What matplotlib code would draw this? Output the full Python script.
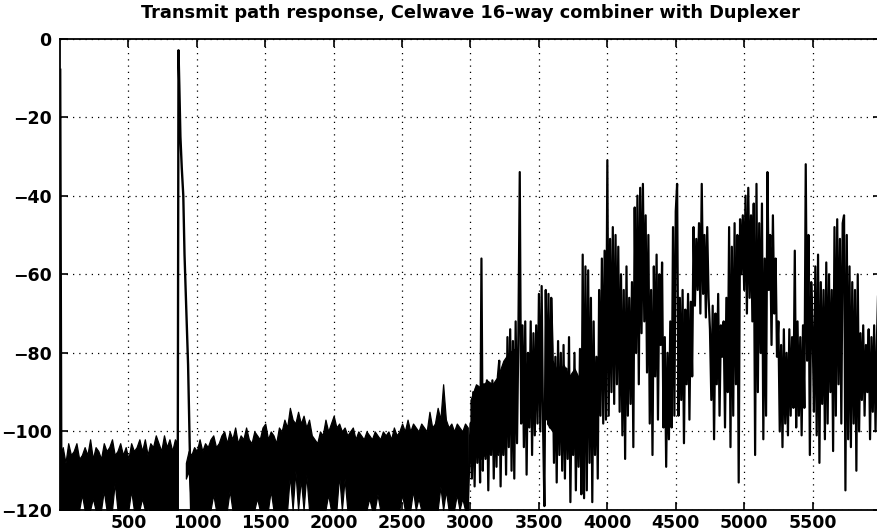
import numpy as np
import matplotlib
matplotlib.use("Agg")
import matplotlib.pyplot as plt

# ---- data (frequency units, dB) ----
title = "Transmit path response, Celwave 16\u2013way combiner with Duplexer"
x_ticks = [500, 1000, 1500, 2000, 2500, 3000, 3500, 4000, 4500, 5000, 5500]
y_ticks = [0, -20, -40, -60, -80, -100, -120]

# DC spike at the left edge
dc_x = 0
dc_level = -8

# noise floor below the carrier: upper and lower envelope (x = 0 .. 860, step 20)
floor_a_start, floor_a_step = 0, 20
floor_a_top = [-106, -104, -108, -103, -106, -105, -103, -107, -106, -104,
               -106, -102, -107, -104, -105, -107, -103, -105, -104, -102,
               -106, -105, -103, -106, -104, -107, -103, -105, -104, -102,
               -105, -102, -106, -103, -104, -101, -103, -105, -101, -104,
               -102, -105, -102, -103]
floor_a_bot = [-120, -120, -120, -120, -120, -120, -120, -120, -116, -120,
               -120, -120, -117, -120, -120, -120, -115, -120, -120, -120,
               -113, -120, -120, -120, -120, -120, -115, -120, -120, -120,
               -117, -120, -120, -120, -120, -120, -120, -120, -120, -120,
               -120, -120, -120, -120]

# carrier peak and its flank
peak_x = [860, 866, 872, 880, 890, 901, 910, 922, 936, 950, 958]
peak_y = [-120, -3, -12, -25, -33, -40, -55, -68, -83, -107, -120]

# noise floor above the carrier (x = 920 .. 2980, step 20)
floor_b_start, floor_b_step = 920, 20
floor_b_top = [-108, -105,
               -106, -104, -105, -102, -105, -103, -104, -102, -101, -104,
               -103, -101, -100, -103, -100, -102, -99, -103, -101, -102,
               -99, -102, -103, -100, -101, -102, -99, -98, -102, -100,
               -101, -103, -99, -100, -97, -99, -94, -97, -98, -95,
               -98, -96, -99, -97, -101, -102, -103, -100, -101, -97,
               -100, -98, -96, -99, -98, -100, -99, -101, -100, -99,
               -102, -100, -101, -102, -100, -101, -102, -100, -101, -102,
               -100, -101, -100, -102, -99, -101, -100, -98, -100, -97,
               -100, -98, -99, -100, -98, -99, -100, -95, -99, -98,
               -94, -97, -88, -97, -99, -98, -100, -98, -99, -100,
               -98, -99]
floor_b_bot = [-112, -110,
               -120, -120, -120, -120, -120, -120, -120, -120, -116, -120,
               -120, -120, -120, -120, -115, -120, -120, -120, -120, -120,
               -120, -120, -120, -120, -117, -120, -120, -120, -120, -115,
               -120, -120, -120, -120, -120, -120, -111, -120, -110, -120,
               -112, -120, -111, -120, -120, -120, -120, -120, -120, -120,
               -116, -120, -120, -120, -111, -120, -112, -120, -120, -120,
               -120, -120, -120, -120, -120, -117, -120, -120, -116, -120,
               -120, -120, -120, -120, -120, -120, -120, -116, -120, -120,
               -120, -115, -120, -117, -120, -120, -120, -120, -120, -120,
               -120, -114, -120, -115, -120, -120, -120, -116, -120, -117,
               -120, -120]

# dense core of the active band where the trace is solid black (step 40)
core1_start, core_step = 3000, 40
core1_top = [-92, -88, -89, -87, -88, -86, -82, -80, -79]
core1_bot = [-108, -106, -107, -105, -104, -106, -100, -98, -99]
core2_start = 3560
core2_top = [-84, -82, -85, -83, -86, -84, -87]
core2_bot = [-98, -100, -97, -101, -99, -102, -100]

# active band (x = 3000 .. 5990, step 10)
band_start, band_step = 3000, 10
band = [
    -98, -112, -90, -114, -89, -108, -91, -113, -56, -110,
    -88, -107, -87, -115, -89, -106, -87, -112, -88, -109,
    -86, -82, -114, -88, -106, -87, -111, -76, -104, -74,
    -110, -77, -112, -72, -103, -75, -34, -98, -73, -104,
    -72, -111, -80, -99, -72, -106, -75, -101, -73, -98,
    -65, -100, -63, -98, -119, -64, -97, -65, -99, -66,
    -79, -108, -81, -113, -77, -106, -80, -110, -78, -112,
    -84, -107, -76, -118, -87, -106, -80, -115, -86, -109,
    -79, -116, -55, -117, -58, -115, -59, -108, -66, -118,
    -72, -106, -81, -112, -64, -96, -56, -98, -54, -97,
    -31, -96, -51, -90, -48, -93, -50, -88, -53, -95,
    -60, -101, -64, -107, -58, -96, -66, -93, -62, -104,
    -43, -80, -40, -88, -38, -75, -37, -72, -45, -85,
    -50, -98, -64, -106, -58, -86, -55, -97, -60, -78,
    -57, -99, -76, -109, -80, -102, -72, -99, -48, -96,
    -44, -37, -96, -66, -92, -64, -103, -69, -88, -65,
    -97, -67, -86, -48, -68, -51, -64, -47, -70, -37,
    -65, -50, -71, -48, -66, -74, -92, -68, -102, -70,
    -88, -65, -96, -73, -81, -72, -99, -66, -90, -48,
    -104, -53, -96, -47, -88, -50, -113, -46, -60, -45,
    -64, -40, -70, -38, -66, -45, -72, -42, -106, -37,
    -90, -47, -80, -42, -102, -56, -96, -34, -64, -50,
    -78, -45, -70, -56, -81, -72, -100, -78, -104, -74,
    -98, -80, -101, -74, -96, -76, -94, -54, -99, -72,
    -96, -76, -101, -73, -94, -32, -82, -50, -106, -62,
    -74, -95, -58, -101, -55, -108, -62, -93, -64, -102,
    -57, -98, -60, -90, -64, -105, -48, -96, -46, -88,
    -51, -98, -47, -45, -115, -50, -102, -58, -104, -62,
    -98, -64, -110, -60, -100, -75, -92, -73, -96, -78,
    -90, -74, -102, -76, -95, -73, -100, -77, -63, -92,
]

# ---- assemble ----
xa = floor_a_start + floor_a_step * np.arange(len(floor_a_top))
xb = floor_b_start + floor_b_step * np.arange(len(floor_b_top))
xc = band_start + band_step * np.arange(len(band))
xk1 = core1_start + core_step * np.arange(len(core1_top))
xk2 = core2_start + core_step * np.arange(len(core2_top))

plt.rcParams['font.family'] = ['DejaVu Sans']
fig = plt.figure(figsize=(8.78, 5.31), dpi=100)
W, H = 878, 531
left, right, top, bottom = 60, 881, 38.5, 510
ax = fig.add_axes([left / W, 1 - bottom / H, (right - left) / W, (bottom - top) / H])

for xs, lo, hi in [(xa, floor_a_bot, floor_a_top), (xb, floor_b_bot, floor_b_top),
                   (xk1, core1_bot, core1_top), (xk2, core2_bot, core2_top)]:
    ax.fill_between(xs, lo, hi, color='black', linewidth=0.9, edgecolor='black')
ax.plot([dc_x, dc_x + 8], [dc_level, -110], color='black', linewidth=2.0)
ax.plot(peak_x, peak_y, color='black', linewidth=1.7)
ax.plot(np.concatenate([[xb[-1]], xc]), np.concatenate([[floor_b_bot[-1]], band]),
        color='black', linewidth=1.6)

ax.set_xlim(0, 6000)
ax.set_ylim(-120, 0)
ax.set_xticks(x_ticks)
ax.set_yticks(y_ticks)
ax.set_xticklabels([str(v) for v in x_ticks])
ax.set_yticklabels(['0' if v == 0 else '\u2212' + str(-v) for v in y_ticks])
ax.grid(True, color='black', linestyle=(0, (1, 4)), linewidth=0.9)
ax.tick_params(direction='in', length=6, width=1.2, top=True, right=True,
               labelsize=12.5, colors='black')
ax.tick_params(axis='x', pad=3)
ax.tick_params(axis='y', pad=6)
for lab in ax.get_xticklabels() + ax.get_yticklabels():
    lab.set_fontweight('semibold')
for s in ax.spines.values():
    s.set_linewidth(1.3)
ax.set_axisbelow(False)
ax.set_title(title, fontsize=12.8, fontweight='semibold', pad=15)

fig.savefig('out.png', dpi=100)
